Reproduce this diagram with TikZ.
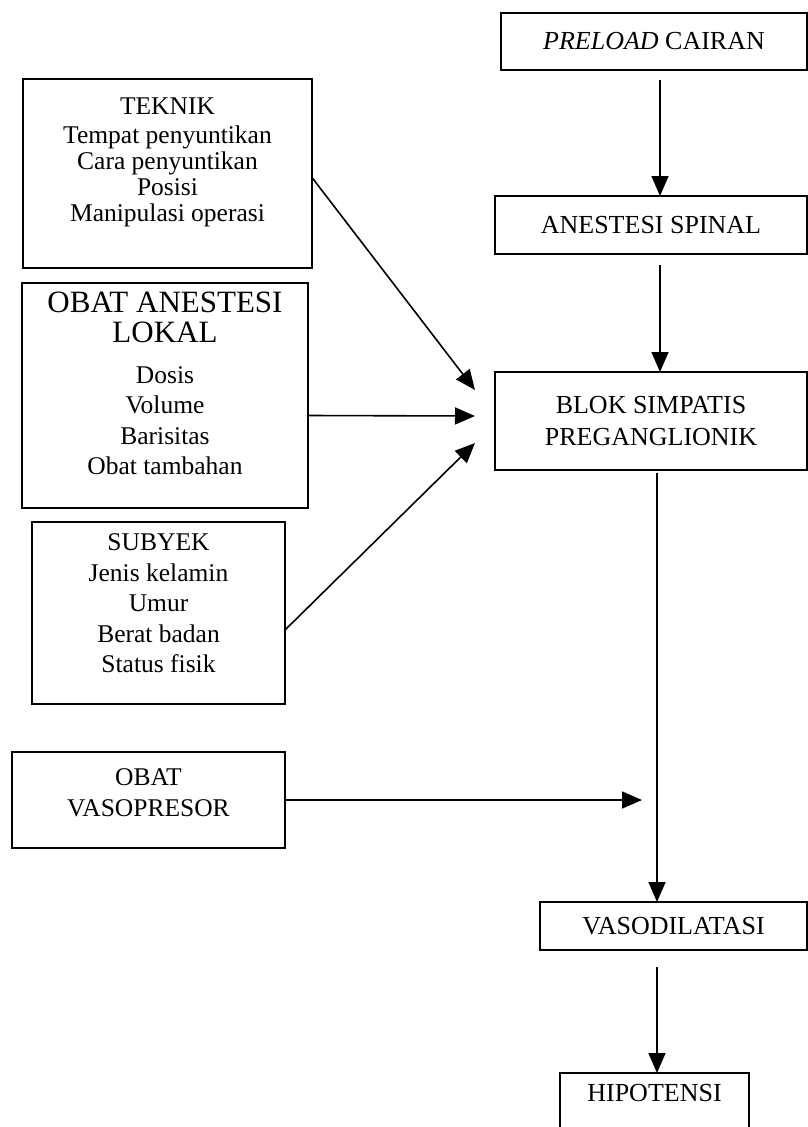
\documentclass[tikz,border=0pt]{standalone}
\usepackage{fontspec}
\setmainfont{Liberation Serif}
\usetikzlibrary{arrows.meta,calc}
\newcommand{\nfa}{\fontsize{25.5}{26}\selectfont}
\newcommand{\nfb}{\fontsize{25.5}{30.5}\selectfont}
\newcommand{\bigfnt}{\fontsize{31}{30}\selectfont}
\newcommand{\rfnt}{\fontsize{26}{32}\selectfont}
\newcommand{\bx}[4]{\parbox[c][#2][t]{#1}{\centering\vspace*{#3}#4\par}}
\begin{document}
\begin{tikzpicture}[x=1pt,y=-1pt,
  box/.style={draw, line width=1.8pt, inner sep=0pt, outer sep=0pt, anchor=north west},
  cbox/.style={box, align=center, font=\rfnt},
  arr/.style={line width=1.6pt, -{Triangle[length=20pt,width=17pt]}}]
\useasboundingbox (0,0) rectangle (808,1127);
\clip (0,0) rectangle (808,1127);
% right column
\node[cbox, minimum width=306pt, minimum height=57pt] (preload) at (501,13) {\textit{PRELOAD} CAIRAN};
\node[cbox, minimum width=312pt, minimum height=58pt] (anestesi) at (495,196) {ANESTESI SPINAL};
\node[cbox, minimum width=312pt, minimum height=98pt] (blok) at (495,372) {BLOK SIMPATIS\\PREGANGLIONIK};
\node[cbox, minimum width=267pt, minimum height=48pt] (vasodil) at (540,902) {VASODILATASI};
\node[box] (hipo) at (560,1073) {\bx{189pt}{80pt}{11pt}{\rfnt HIPOTENSI}};
% left column
\node[box] (teknik) at (23,79) {\bx{289pt}{189pt}{19pt}{\nfa TEKNIK\\[3pt]Tempat penyuntikan\\Cara penyuntikan\\Posisi\\Manipulasi operasi}};
\node[box] (obat) at (22,283) {\bx{286pt}{225pt}{9pt}{{\bigfnt OBAT ANESTESI\\LOKAL\par}\vspace{10pt}{\nfb Dosis\\Volume\\Barisitas\\Obat tambahan\par}}};
\node[box] (subyek) at (32,522) {\bx{253pt}{182pt}{12pt}{\nfb SUBYEK\\Jenis kelamin\\Umur\\Berat badan\\Status fisik}};
\node[box] (vaso) at (12,752) {\bx{273pt}{96pt}{17pt}{\nfb OBAT\\VASOPRESOR}};
% connectors
\coordinate (p1) at ($(preload.south)+(6,10)$);
\draw[arr] (p1) -- (p1 |- anestesi.north);
\coordinate (p2) at ($(anestesi.south)+(9,11)$);
\draw[arr] (p2) -- (p2 |- blok.north);
\coordinate (p3) at ($(blok.south)+(6,3)$);
\draw[arr] (p3) -- (p3 |- vasodil.north);
\coordinate (p4) at ($(p3 |- vasodil.south)+(0,17)$);
\draw[arr] (p4) -- (p4 |- hipo.north);
\draw[arr] ($(teknik.east)+(0,4)$) -- ($(blok.west)+(-20,-31)$);
\draw[arr] ($(obat.east)+(0,20)$) -- ($(blok.west)+(-20,-5)$);
\draw[arr] ($(subyek.east)+(0,17)$) -- ($(blok.west)+(-20,22)$);
\coordinate (vp) at (642,800);
\draw[arr] (vaso.east) -- (vp);
\end{tikzpicture}
\end{document}
